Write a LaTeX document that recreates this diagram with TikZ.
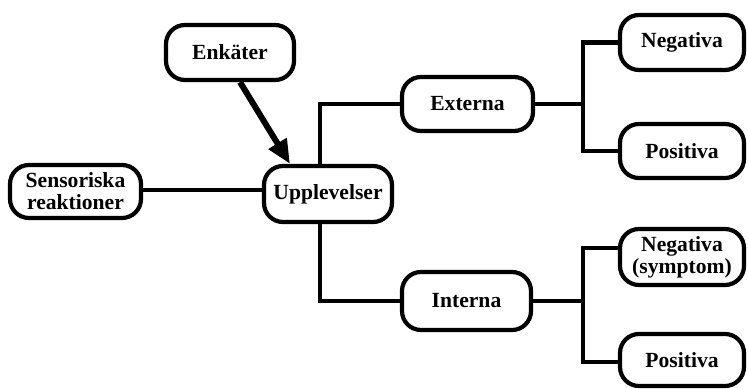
\documentclass[tikz,border=0pt]{standalone}
\usepackage{fontspec}
\setmainfont{Liberation Serif}
\usetikzlibrary{arrows.meta}
\begin{document}
\begin{tikzpicture}[x=0.5pt,y=-0.5pt,
  box/.style={draw=black, line width=2.1pt, rounded corners=9.5pt, fill=white,
    inner sep=0pt, align=center,
    font=\bfseries\fontsize{10.8}{11}\selectfont},
  link/.style={line width=2.1pt, draw=black},
  pointer/.style={line width=3pt, draw=black, -{Triangle[length=12pt,width=10pt]}}]
  \useasboundingbox (0,0) rectangle (748,389);

  % boxes
  \node[box, minimum width=65.5pt, minimum height=26.5pt] (sens) at (75.5,191.5) {Sensoriska\\reaktioner};
  \node[box, minimum width=64pt, minimum height=27.5pt] (enk) at (230,52.5) {Enkäter};
  \node[box, minimum width=64pt, minimum height=28pt] (upp) at (328,194) {Upplevelser};
  \node[box, minimum width=65.5pt, minimum height=27pt] (ext) at (467.5,104) {Externa};
  \node[box, minimum width=64.5pt, minimum height=29pt] (int) at (466.5,301) {Interna};
  \node[box, minimum width=62pt, minimum height=27.5pt] (neg1) at (682,42.5) {Negativa};
  \node[box, minimum width=62pt, minimum height=27pt] (pos1) at (682,151) {Positiva};
  \node[box, minimum width=62pt, minimum height=28pt] (neg2) at (682,257) {Negativa\\(symptom)};
  \node[box, minimum width=62pt, minimum height=26pt] (pos2) at (682,360) {Positiva};

  % branch points
  \coordinate (b1) at (583,104);
  \coordinate (b2) at (583,301);

  % connectors
  \draw[link] (sens.east |- 0,190) -- (upp.west |- 0,190);
  \draw[pointer] ([xshift=5pt]enk.south) -- ([xshift=-19pt]upp.north);
  \draw[link] ([xshift=-4pt]upp.north) |- (ext.west);
  \draw[link] ([xshift=-4pt]upp.south) |- (int.west);
  \draw[link] (ext.east) -- (b1);
  \draw[link] (int.east) -- (b2);
  \draw[link] (neg1.west) -| (b1) |- (pos1.west);
  \draw[link] ([yshift=4.5pt]neg2.west) -| (b2) |- ([yshift=-1pt]pos2.west);
\end{tikzpicture}
\end{document}
